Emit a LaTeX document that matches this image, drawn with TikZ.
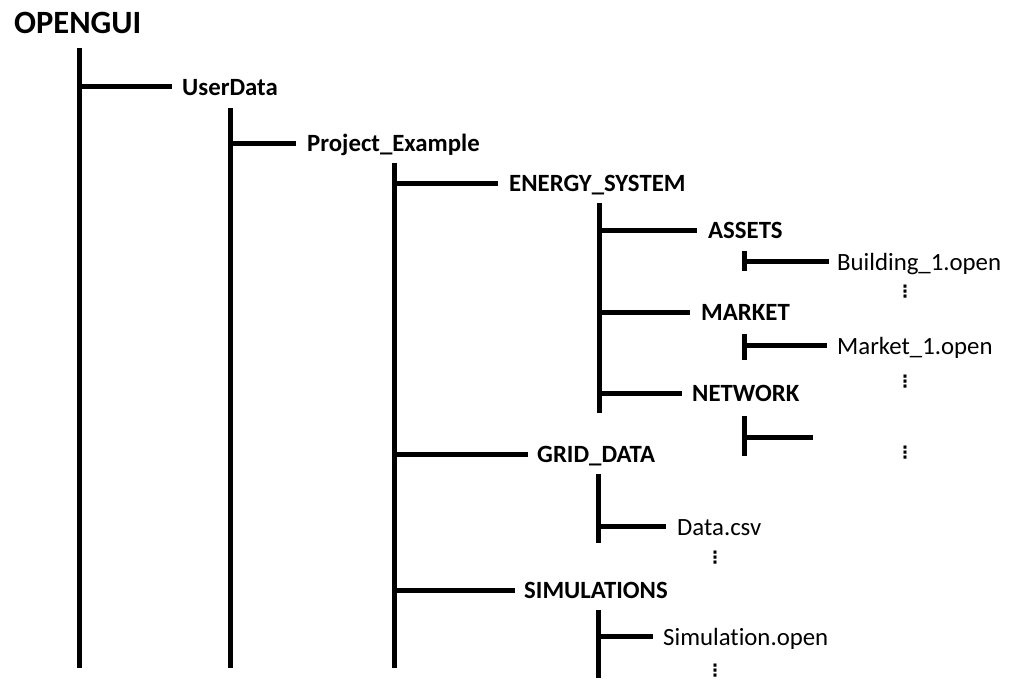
\documentclass[tikz,border=0pt]{standalone}
\usepackage{fontspec}
\setmainfont[Ligatures=NoCommon]{Carlito}
\newfontfamily\dotsfont{DejaVu Sans}
\begin{document}
\begin{tikzpicture}[x=1pt,y=-1pt,
  bar/.style={line width=5pt,line cap=butt},
  folder/.style={anchor=base west,inner sep=0pt,font=\fontsize{24.8}{28}\selectfont\bfseries},
  filename/.style={anchor=base west,inner sep=0pt,font=\fontsize{24.8}{28}\selectfont},
  more/.style={inner sep=0pt,font=\dotsfont\bfseries\fontsize{17}{18}\selectfont}]
\useasboundingbox (0,0) rectangle (1014,694);
% texts
\node[anchor=base west,inner sep=0pt,font=\fontsize{32.5}{36}\selectfont\bfseries] (root) at (14,33) {OPENGUI};
\node[folder] (ud) at (182,95) {UserData};
\node[folder] (pe) at (307,151) {Project\_Example};
\node[folder] (es) at (509,191) {ENERGY\_SYSTEM};
\node[folder] (as) at (708,238) {ASSETS};
\node[folder] (mk) at (701,320) {MARKET};
\node[folder] (nw) at (692,401) {NETWORK};
\node[folder] (gd) at (537,462) {GRID\_DATA};
\node[folder] (sm) at (524,598) {SIMULATIONS};
\node[filename] (b1) at (837,270) {Building\_1.open};
\node[filename] (m1) at (837,354) {Market\_1.open};
\node[filename] (dc) at (677,535) {Data.csv};
\node[filename] (so) at (663,645) {Simulation.open};
\node[more] (d1) at (905,292) {⋮};
\node[more] (d2) at (905,382) {⋮};
\node[more] (d3) at (905,453) {⋮};
\node[more] (d4) at (715,558) {⋮};
\node[more] (d5) at (715,671) {⋮};
% vertical bars
\coordinate (v1t) at (79,48);  \coordinate (v1b) at (79,668);
\coordinate (v2t) at (230,108); \coordinate (v2b) at (230,668);
\coordinate (v3t) at (394,163); \coordinate (v3b) at (394,668);
\coordinate (v4t) at (599,203); \coordinate (v4b) at (599,413);
\coordinate (v5t) at (744,251); \coordinate (v5b) at (744,271);
\coordinate (v6t) at (744,334); \coordinate (v6b) at (744,360);
\coordinate (v7t) at (744,416); \coordinate (v7b) at (744,456);
\coordinate (v8t) at (598,474); \coordinate (v8b) at (598,543);
\coordinate (v9t) at (598,610); \coordinate (v9b) at (598,678);
\coordinate (nwend) at (813,437);
\foreach \a in {1,...,9}{\draw[bar] (v\a t) -- (v\a b);}
% branches
\draw[bar] (79,86) -- (172,86);
\draw[bar] (230,143) -- (296,143);
\draw[bar] (394,183) -- (498,183);
\draw[bar] (599,230) -- (697,230);
\draw[bar] (599,312) -- (690,312);
\draw[bar] (599,393) -- (682,393);
\draw[bar] (394,454) -- (528,454);
\draw[bar] (394,590) -- (515,590);
\draw[bar] (744,261) -- (829,261);
\draw[bar] (744,345) -- (827,345);
\draw[bar] (744,437) -- (nwend);
\draw[bar] (598,526) -- (666,526);
\draw[bar] (598,636) -- (653,636);
\end{tikzpicture}
\end{document}
